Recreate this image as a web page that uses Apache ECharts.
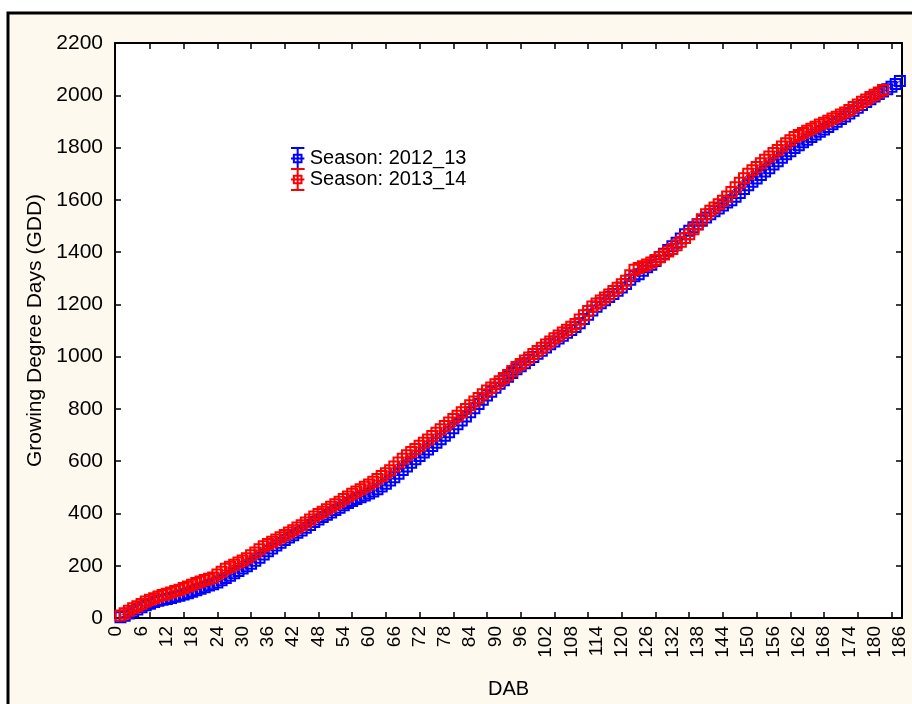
<!DOCTYPE html>
<html>
<head>
<meta charset="utf-8">
<script src="https://cdn.jsdelivr.net/npm/echarts@6/dist/echarts.min.js"></script>
<style>
  html, body { margin: 0; padding: 0; background: #ffffff; }
  #chart { width: 912px; height: 704px; }
</style>
</head>
<body>
<div id="chart"></div>
<script>
// Cumulative growing degree days per day after budding (DAB = 1, 2, 3, ...)
const season1213 = [
  3, 9, 17, 25, 33, 41, 49, 55, 61, 66,
  70, 73, 77, 81, 85, 90, 95, 100, 106, 112,
  118, 124, 129, 136, 144, 153, 162, 171, 180, 189,
  198, 208, 219, 231, 243, 255, 266, 277, 288, 298,
  308, 317, 326, 335, 345, 356, 367, 377, 386, 395,
  404, 413, 422, 431, 440, 448, 455, 462, 469, 476,
  484, 493, 503, 514, 526, 539, 552, 566, 580, 594,
  607, 620, 633, 645, 658, 671, 684, 697, 711, 726,
  741, 756, 771, 787, 803, 819, 835, 851, 866, 881,
  896, 910, 923, 937, 952, 963, 975, 987, 999, 1011,
  1023, 1035, 1047, 1058, 1069, 1080, 1091, 1102, 1113, 1128,
  1144, 1160, 1177, 1191, 1204, 1216, 1228, 1240, 1252, 1265,
  1278, 1294, 1308, 1315, 1329, 1342, 1352, 1366, 1380, 1394,
  1408, 1422, 1436, 1452, 1468, 1482, 1495, 1507, 1520, 1532,
  1545, 1556, 1567, 1578, 1590, 1598, 1612, 1626, 1641, 1656,
  1669, 1682, 1695, 1708, 1721, 1735, 1748, 1761, 1774, 1786,
  1798, 1809, 1820, 1830, 1840, 1850, 1860, 1869, 1879, 1889,
  1899, 1909, 1919, 1930, 1941, 1952, 1963, 1974, 1985, 1995,
  2005, 2014, 2023, 2033, 2043, 2055
];
const season1314 = [
  10, 18, 28, 37, 45, 54, 63, 70, 76, 82,
  88, 93, 98, 103, 108, 115, 121, 127, 134, 140,
  145, 150, 155, 166, 177, 188, 196, 204, 212, 220,
  229, 240, 251, 263, 275, 283, 292, 300, 309, 318,
  327, 336, 346, 355, 365, 377, 388, 398, 407, 416,
  426, 435, 445, 455, 465, 475, 484, 493, 502, 511,
  521, 532, 543, 554, 565, 580, 595, 609, 623, 635,
  647, 659, 671, 683, 696, 709, 722, 735, 748, 761,
  774, 787, 800, 814, 828, 842, 856, 870, 882, 894,
  906, 918, 930, 945, 960, 972, 985, 997, 1010, 1022,
  1034, 1046, 1058, 1070, 1081, 1092, 1103, 1114, 1125, 1142,
  1158, 1175, 1192, 1203, 1215, 1226, 1238, 1251, 1264, 1277,
  1290, 1311, 1332, 1339, 1346, 1353, 1360, 1370, 1381, 1391,
  1402, 1412, 1426, 1440, 1454, 1468, 1487, 1506, 1526, 1545,
  1558, 1571, 1583, 1596, 1613, 1630, 1648, 1665, 1683, 1700,
  1713, 1726, 1740, 1753, 1766, 1779, 1791, 1804, 1816, 1828,
  1840, 1848, 1856, 1864, 1872, 1880, 1888, 1895, 1903, 1911,
  1918, 1926, 1934, 1944, 1955, 1965, 1975, 1984, 1993, 2002,
  2011, 2020
];

const seriesNames = ['Season: 2012_13', 'Season: 2013_14'];
const xLabelDays = [0, 6, 12, 18, 24, 30, 36, 42, 48, 54, 60, 66, 72, 78, 84, 90, 96,
  102, 108, 114, 120, 126, 132, 138, 144, 150, 156, 162, 168, 174, 180, 186];
const xTickDays = [8, 16, 24, 32, 40, 48, 56, 64, 72, 80, 88, 96, 104, 112, 120, 128,
  136, 144, 152, 160, 168, 176, 184];
const yTicks = [0, 200, 400, 600, 800, 1000, 1200, 1400, 1600, 1800, 2000, 2200];

const toPairs = vals => vals.map((v, i) => [i + 1, v]);

// Error-bar style legend glyph: whisker caps, stem and a small square
const whiskerIcon = 'path://M0 0H14M7 0V22M0 22H14M3 7H11V15H3ZM0 11H14';

const FONT = 'Liberation Sans, Arial, sans-serif';
const chart = echarts.init(document.getElementById('chart'), null, { renderer: 'canvas' });

const xBase = {
  type: 'value', min: -0.3, max: 186.5,
  axisLine: { show: true, onZero: false, lineStyle: { color: '#000', width: 2 } },
  splitLine: { show: false }
};
const yBase = {
  type: 'value', min: yTicks[0], max: yTicks[yTicks.length - 1], interval: 200,
  axisLine: { show: true, onZero: false, lineStyle: { color: '#000', width: 2 } },
  splitLine: { show: false }
};

chart.setOption({
  backgroundColor: '#ffffff',
  animation: false,
  graphic: [{
    type: 'rect', z: -10, silent: true,
    shape: { x: 8, y: 13, width: 940, height: 720 },
    style: { fill: '#fdf9ef', stroke: '#000', lineWidth: 3 }
  }],
  grid: {
    left: 115, top: 43, right: 10, bottom: 84,
    show: true, backgroundColor: '#ffffff', borderWidth: 0
  },
  legend: {
    left: 285, top: 142, orient: 'vertical',
    itemWidth: 14, itemHeight: 21, itemGap: -2,
    textStyle: { fontFamily: FONT, fontSize: 20, lineHeight: 20, color: '#000' },
    data: [
      { name: seriesNames[0], icon: whiskerIcon,
        itemStyle: { color: 'transparent', borderColor: '#0000ff', borderWidth: 2 } },
      { name: seriesNames[1], icon: whiskerIcon,
        itemStyle: { color: 'transparent', borderColor: '#ff0000', borderWidth: 2 } }
    ]
  },
  xAxis: [
    Object.assign({}, xBase, {
      position: 'bottom',
      name: 'DAB', nameLocation: 'middle', nameGap: 61,
      nameTextStyle: { fontFamily: FONT, fontSize: 20, color: '#000' },
      axisTick: { show: true, inside: true, length: 6, customValues: xTickDays,
        lineStyle: { color: '#000', width: 1.5 } },
      axisLabel: { show: true, rotate: 90, margin: 8, customValues: xLabelDays,
        fontFamily: FONT, fontSize: 19, color: '#000' }
    }),
    Object.assign({}, xBase, {
      position: 'top',
      axisTick: { show: true, inside: true, length: 6, customValues: xTickDays,
        lineStyle: { color: '#000', width: 1.5 } },
      axisLabel: { show: false }
    })
  ],
  yAxis: [
    Object.assign({}, yBase, {
      position: 'left',
      name: 'Growing Degree Days (GDD)', nameLocation: 'middle', nameGap: 69,
      nameTextStyle: { fontFamily: FONT, fontSize: 21, color: '#000' },
      axisTick: { show: true, inside: true, length: 6, lineStyle: { color: '#000', width: 1.5 } },
      axisLabel: { show: true, margin: 12, fontFamily: FONT, fontSize: 21, color: '#000',
        formatter: v => String(v) }
    }),
    Object.assign({}, yBase, {
      position: 'right',
      axisTick: { show: true, inside: true, length: 6, lineStyle: { color: '#000', width: 1.5 } },
      axisLabel: { show: false }
    })
  ],
  series: [
    {
      name: seriesNames[0], type: 'line', xAxisIndex: 0, yAxisIndex: 0,
      data: toPairs(season1213), clip: false,
      symbol: 'rect', symbolSize: 10, showAllSymbol: true,
      lineStyle: { color: '#0000ff', width: 1 },
      itemStyle: { color: 'transparent', borderColor: '#0000ff', borderWidth: 2 },
      emphasis: { disabled: true }
    },
    {
      name: seriesNames[1], type: 'line', xAxisIndex: 0, yAxisIndex: 0,
      data: toPairs(season1314), clip: false,
      symbol: 'rect', symbolSize: 10, showAllSymbol: true,
      lineStyle: { color: '#ff0000', width: 1 },
      itemStyle: { color: 'transparent', borderColor: '#ff0000', borderWidth: 2 },
      emphasis: { disabled: true }
    }
  ]
});
</script>
</body>
</html>
